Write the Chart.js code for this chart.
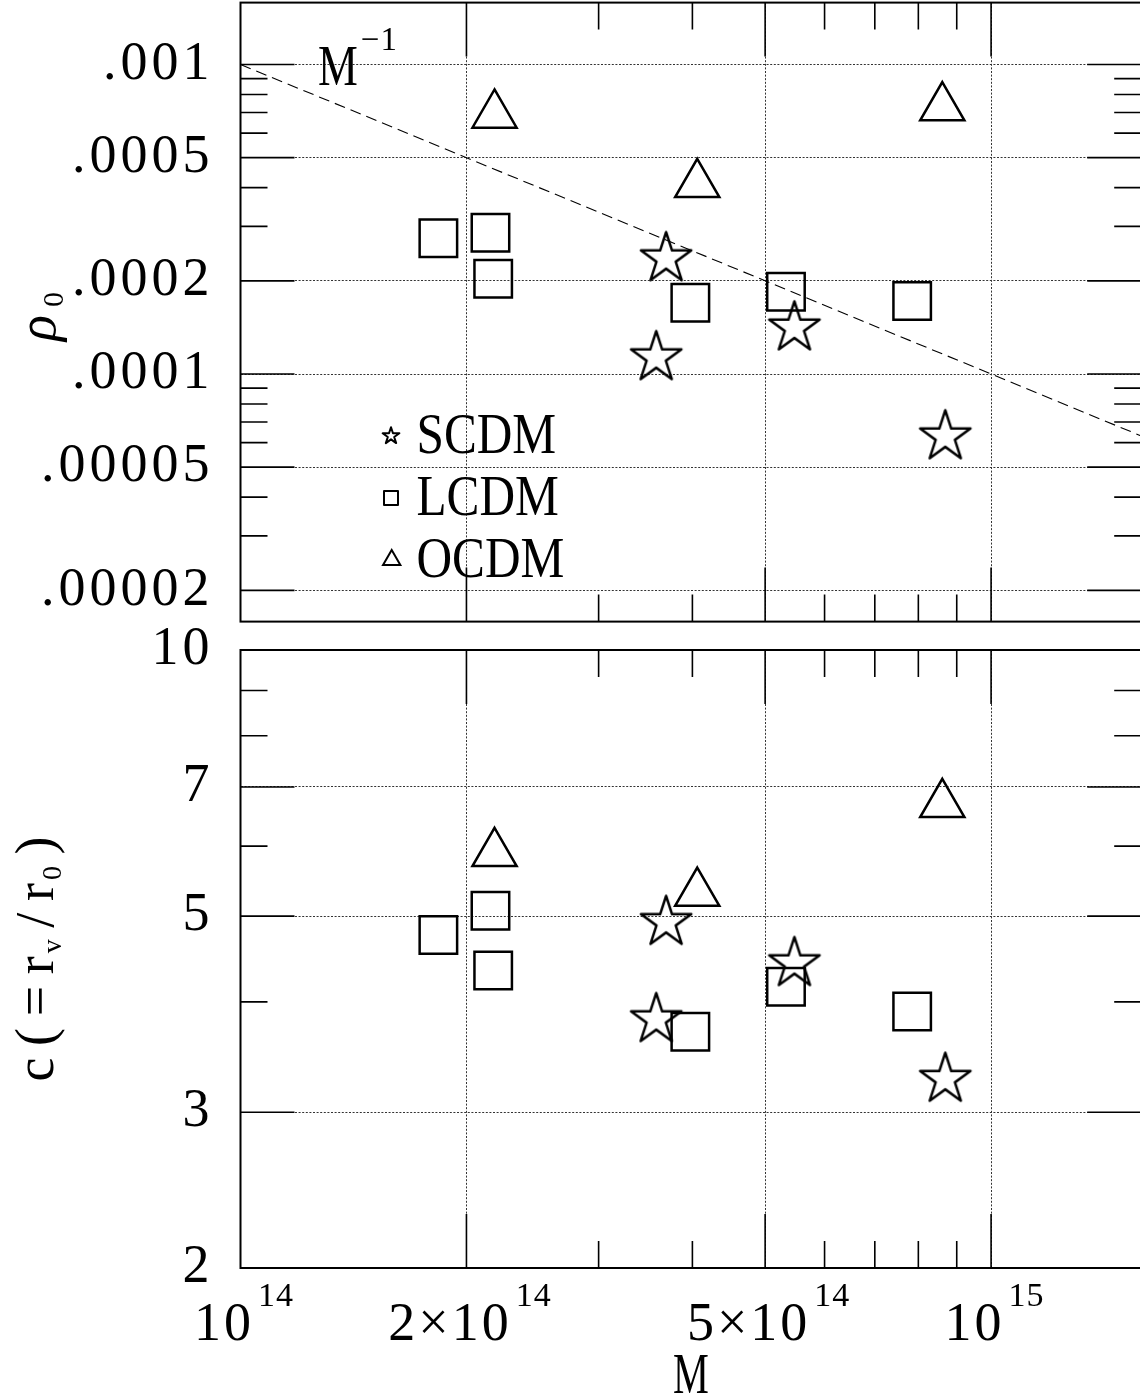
<!DOCTYPE html>
<html>
<head>
<meta charset="utf-8">
<script src="https://cdn.jsdelivr.net/npm/chart.js"></script>
<style>
  html, body { margin: 0; padding: 0; background: #fff; overflow: hidden; }
  #wrap { position: relative; width: 1140px; height: 1397px; overflow: hidden; background: #fff; }
  canvas { position: absolute; left: 0; }
  #rhoCanvas { top: 0; }
  #concCanvas { top: 624px; }
</style>
</head>
<body>
<div id="wrap">
  <canvas id="rhoCanvas" width="1150" height="624"></canvas>
  <canvas id="concCanvas" width="1150" height="773"></canvas>
</div>
<script>
// ---- halo masses for each cosmology ----
const massSCDM = [3.69e14, 3.58e14, 5.47e14, 8.69e14];
const massLCDM = [1.835e14, 2.153e14, 2.171e14, 3.975e14, 5.33e14, 7.85e14];
const massOCDM = [2.18e14, 4.06e14, 8.61e14];

// ---- characteristic density rho_0 ----
const rho0SCDM = [2.36e-4, 1.13e-4, 1.41e-4, 6.27e-5];
const rho0LCDM = [2.745e-4, 2.86e-4, 2.03e-4, 1.70e-4, 1.844e-4, 1.72e-4];
const rho0OCDM = [6.87e-4, 4.10e-4, 7.26e-4];

// ---- concentration c = r_v / r_0 ----
const concSCDM = [4.92, 3.82, 4.42, 3.27];
const concLCDM = [4.76, 5.07, 4.34, 3.70, 4.16, 3.90];
const concOCDM = [5.89, 5.31, 6.69];

// ---- M^-1 guide line end points ----
const refLineMass = [1e14, 1.5849e15];
const refLineRho = [1e-3, 6.31e-5];

// ---- axis ranges and tick labels ----
const massRange = [1e14, 1.5849e15];
const rhoRange = [1.5849e-5, 1.5849e-3];
const concRange = [2, 10];
const massTickValues = [1e14, 2e14, 5e14, 1e15];
const massTickMain = ['10', '2×10', '5×10', '10'];
const massTickExp = ['14', '14', '14', '15'];
const rhoTickValues = [1e-3, 5e-4, 2e-4, 1e-4, 5e-5, 2e-5];
const rhoTickLabels = ['.001', '.0005', '.0002', '.0001', '.00005', '.00002'];
const concTickValues = [10, 7, 5, 3, 2];
const concTickLabels = ['10', '7', '5', '3', '2'];
const seriesNames = ['SCDM', 'LCDM', 'OCDM'];

const SERIF = '"Liberation Serif", "DejaVu Serif", serif';
const AREA_LEFT = 240.5;
const AREA_RIGHT = 1141.2;
const CANVAS_W = 1150;

// five-pointed star outline
function starPath(ctx, cx, cy, R) {
  const r = R * 0.382;
  ctx.beginPath();
  for (let k = 0; k < 10; k++) {
    const rad = (k % 2 === 0) ? R : r;
    const ang = -Math.PI / 2 + k * Math.PI / 5;
    const px = cx + rad * Math.cos(ang), py = cy + rad * Math.sin(ang);
    if (k === 0) ctx.moveTo(px, py); else ctx.lineTo(px, py);
  }
  ctx.closePath();
}
function makeStar(R, lw) {
  const size = 2 * Math.ceil(R + lw + 2);
  const c = document.createElement('canvas');
  c.width = size; c.height = size;
  const g = c.getContext('2d');
  starPath(g, size / 2, size / 2, R);
  g.lineWidth = lw; g.lineJoin = 'round'; g.strokeStyle = '#000';
  g.stroke();
  return c;
}
function trianglePath(ctx, cx, cy, R) {
  ctx.beginPath();
  for (let k = 0; k < 3; k++) {
    const ang = -Math.PI / 2 + k * 2 * Math.PI / 3;
    const px = cx + R * Math.cos(ang), py = cy + R * Math.sin(ang);
    if (k === 0) ctx.moveTo(px, py); else ctx.lineTo(px, py);
  }
  ctx.closePath();
}
const starMarker = makeStar(26.5, 2.5);

function points(xs, ys) { return xs.map((x, i) => ({ x, y: ys[i] })); }

// text drawn glyph by glyph with extra tracking and optional horizontal squeeze
function spacedWidth(ctx, str, sp, sx = 1) {
  let w = 0;
  for (const ch of str) w += ctx.measureText(ch).width * sx + sp;
  return w - sp;
}
function drawSpaced(ctx, str, x, y, sp, sx = 1) {
  for (const ch of str) {
    ctx.save(); ctx.translate(x, y); ctx.scale(sx, 1); ctx.fillText(ch, 0, 0); ctx.restore();
    x += ctx.measureText(ch).width * sx + sp;
  }
  return x - sp;
}

// all 1..9 x 10^k values inside a range
function logSteps(min, max) {
  const out = [];
  for (let e = Math.floor(Math.log10(min)) - 1; e <= Math.ceil(Math.log10(max)); e++) {
    for (let n = 1; n <= 9; n++) {
      const v = n * Math.pow(10, e);
      if (v > min * 1.0001 && v < max * 0.9999) out.push(v);
    }
  }
  return out;
}
function inList(v, list) { return list.some(t => Math.abs(t - v) / t < 1e-6); }

// frame plus inward tick marks on all four sides
function drawFrame(chart, yMajors) {
  const { ctx, chartArea: a, scales: { x, y } } = chart;
  ctx.save();
  ctx.strokeStyle = '#000';
  ctx.lineWidth = 1.6;
  ctx.beginPath();
  for (const v of logSteps(y.min, y.max)) {
    const py = y.getPixelForValue(v);
    const len = inList(v, yMajors) ? 54 : 27;
    ctx.moveTo(a.left, py); ctx.lineTo(a.left + len, py);
    ctx.moveTo(a.right, py); ctx.lineTo(a.right - len, py);
  }
  for (const v of logSteps(x.min, x.max)) {
    const px = x.getPixelForValue(v);
    const len = inList(v, massTickValues) ? 54 : 27;
    ctx.moveTo(px, a.bottom); ctx.lineTo(px, a.bottom - len);
    ctx.moveTo(px, a.top); ctx.lineTo(px, a.top + len);
  }
  ctx.stroke();
  ctx.lineWidth = 2;
  ctx.strokeRect(a.left, a.top, a.right - a.left, a.bottom - a.top);
  ctx.restore();
}

function makeScales(yRange, yTicks, yLabels, xHeight) {
  const gridStyle = { drawTicks: false, color: '#333', lineWidth: 1 };
  return {
    x: {
      type: 'logarithmic', position: 'bottom',
      min: massRange[0], max: massRange[1],
      ticks: { display: false },
      grid: gridStyle,
      border: { display: false, dash: [2, 1.6] },
      afterBuildTicks: s => { s.ticks = massTickValues.map(v => ({ value: v })); },
      afterFit: s => { s.height = xHeight; s.paddingLeft = 0; s.paddingRight = 0; s.paddingTop = 0; s.paddingBottom = 0; }
    },
    y: {
      type: 'logarithmic', position: 'left',
      min: yRange[0], max: yRange[1],
      ticks: {
        autoSkip: false, padding: 27, color: '#000',
        font: { family: SERIF, size: 54 },
        callback: (v) => {
          const i = yTicks.findIndex(t => Math.abs(t - v) / t < 1e-6);
          return i >= 0 ? yLabels[i] : '';
        }
      },
      grid: gridStyle,
      border: { display: false, dash: [2, 1.6] },
      afterBuildTicks: s => { s.ticks = yTicks.map(v => ({ value: v })); },
      afterFit: s => { s.width = AREA_LEFT; s.paddingTop = 0; s.paddingBottom = 0; s.paddingLeft = 0; s.paddingRight = 0; }
    }
  };
}

function markerSets(yS, yL, yO) {
  const common = { showLine: false, pointBackgroundColor: 'rgba(0,0,0,0)', pointBorderColor: '#000', pointBorderWidth: 2.5 };
  return [
    Object.assign({ label: seriesNames[0], data: points(massSCDM, yS), pointStyle: starMarker, pointRadius: 27 }, common),
    Object.assign({ label: seriesNames[1], data: points(massLCDM, yL), pointStyle: 'rect', pointRadius: 26.5 }, common),
    Object.assign({ label: seriesNames[2], data: points(massOCDM, yO), pointStyle: 'triangle', pointRadius: 25.5 }, common)
  ];
}

function baseOptions(top) {
  return {
    responsive: false, animation: false, devicePixelRatio: 1, events: [],
    layout: { autoPadding: false, padding: { top: top, right: CANVAS_W - AREA_RIGHT, left: 0, bottom: 0 } },
    plugins: { legend: { display: false }, tooltip: { enabled: false } }
  };
}

// ---------------- upper panel: rho_0 ----------------
const rhoPlugin = {
  id: 'rhoDecor',
  beforeDraw(chart) { chart.ctx.letterSpacing = '4px'; },
  afterDraw(chart) {
    const ctx = chart.ctx;
    ctx.letterSpacing = '0px';
    drawFrame(chart, rhoTickValues);
    ctx.save();
    ctx.fillStyle = '#000';
    ctx.strokeStyle = '#000';
    ctx.textBaseline = 'alphabetic';
    ctx.textAlign = 'left';

    // M^-1 label next to the guide line
    ctx.font = '56px ' + SERIF;
    const mEnd = drawSpaced(ctx, 'M', 318, 85, 0, 0.8);
    ctx.font = '33px ' + SERIF;
    drawSpaced(ctx, '\u22121', mEnd + 3, 50, 1);

    // legend
    ctx.lineWidth = 2;
    starPath(ctx, 391, 436, 8.8); ctx.lineJoin = 'round'; ctx.stroke();
    ctx.strokeRect(384, 491, 14, 14);
    ctx.lineJoin = 'miter';
    trianglePath(ctx, 391.7, 560, 10); ctx.stroke();
    ctx.font = '56px ' + SERIF;
    const base = [453, 515, 577];
    seriesNames.forEach((n, i) => drawSpaced(ctx, n, 416.5, base[i], 0, 0.88));

    // rotated axis title rho_0
    ctx.save();
    ctx.translate(55, 341);
    ctx.rotate(-Math.PI / 2);
    ctx.font = 'italic 54px ' + SERIF;
    ctx.fillText('\u03c1', 0, 0);
    const w = ctx.measureText('\u03c1').width;
    ctx.font = '30px ' + SERIF;
    ctx.fillText('0', w + 8, 8);
    ctx.restore();
    ctx.restore();
  }
};

new Chart(document.getElementById('rhoCanvas'), {
  type: 'scatter',
  data: {
    datasets: [
      ...markerSets(rho0SCDM, rho0LCDM, rho0OCDM),
      {
        label: 'M^-1', data: points(refLineMass, refLineRho), showLine: true,
        borderColor: '#000', borderWidth: 1.1, borderDash: [11, 6], pointRadius: 0, fill: false
      }
    ]
  },
  options: Object.assign(baseOptions(2.6), {
    scales: makeScales(rhoRange, rhoTickValues, rhoTickLabels, 624 - 621.6)
  }),
  plugins: [rhoPlugin]
});

// ---------------- lower panel: concentration ----------------
const concPlugin = {
  id: 'concDecor',
  beforeDraw(chart) { chart.ctx.letterSpacing = '4px'; },
  afterDraw(chart) {
    const ctx = chart.ctx;
    ctx.letterSpacing = '0px';
    drawFrame(chart, concTickValues);
    const x = chart.scales.x;
    ctx.save();
    ctx.fillStyle = '#000';
    ctx.textBaseline = 'alphabetic';
    ctx.textAlign = 'left';

    // mass tick labels with raised exponents
    massTickValues.forEach((v, i) => {
      const px = x.getPixelForValue(v);
      ctx.font = '54px ' + SERIF;
      const wm = spacedWidth(ctx, massTickMain[i], 3);
      ctx.font = '34px ' + SERIF;
      const we = spacedWidth(ctx, massTickExp[i], 1);
      const gap = 7;
      const sx = px + 3 - (wm + gap + we) / 2;
      ctx.font = '54px ' + SERIF;
      drawSpaced(ctx, massTickMain[i], sx, 716, 3);
      ctx.font = '34px ' + SERIF;
      drawSpaced(ctx, massTickExp[i], sx + wm + gap, 682, 1);
    });

    // x axis title
    ctx.font = '56px ' + SERIF;
    const mw = spacedWidth(ctx, 'M', 0, 0.72);
    drawSpaced(ctx, 'M', (chart.chartArea.left + chart.chartArea.right) / 2 - mw / 2, 769, 0, 0.72);

    // rotated axis title c(=r_v/r_0); subscripts sit close to their r
    const parts = [['c', 54, 0], ['(', 54, 0], ['=', 54, 0], ['r', 54, 0], ['v', 28, 8],
                   ['/', 54, 0], ['r', 54, 0], ['0', 28, 8], [')', 54, 0]];
    let natural = 0, weights = 0;
    parts.forEach((p, i) => {
      ctx.font = p[1] + 'px ' + SERIF;
      natural += ctx.measureText(p[0]).width;
      if (i > 0) weights += (p[2] ? 0.25 : 1);
    });
    const span = 245;
    const sp = (span - natural) / weights;
    const midY = (chart.chartArea.top + chart.chartArea.bottom) / 2;
    ctx.save();
    ctx.translate(53, midY + span / 2);
    ctx.rotate(-Math.PI / 2);
    let along = 0;
    parts.forEach((p, i) => {
      if (i > 0) along += sp * (p[2] ? 0.25 : 1);
      ctx.font = p[1] + 'px ' + SERIF;
      ctx.fillText(p[0], along, p[2]);
      along += ctx.measureText(p[0]).width;
    });
    ctx.restore();
    ctx.restore();
  }
};

new Chart(document.getElementById('concCanvas'), {
  type: 'scatter',
  data: { datasets: markerSets(concSCDM, concLCDM, concOCDM) },
  options: Object.assign(baseOptions(26), {
    scales: makeScales(concRange, concTickValues, concTickLabels, 773 - 644)
  }),
  plugins: [concPlugin]
});
</script>
</body>
</html>
